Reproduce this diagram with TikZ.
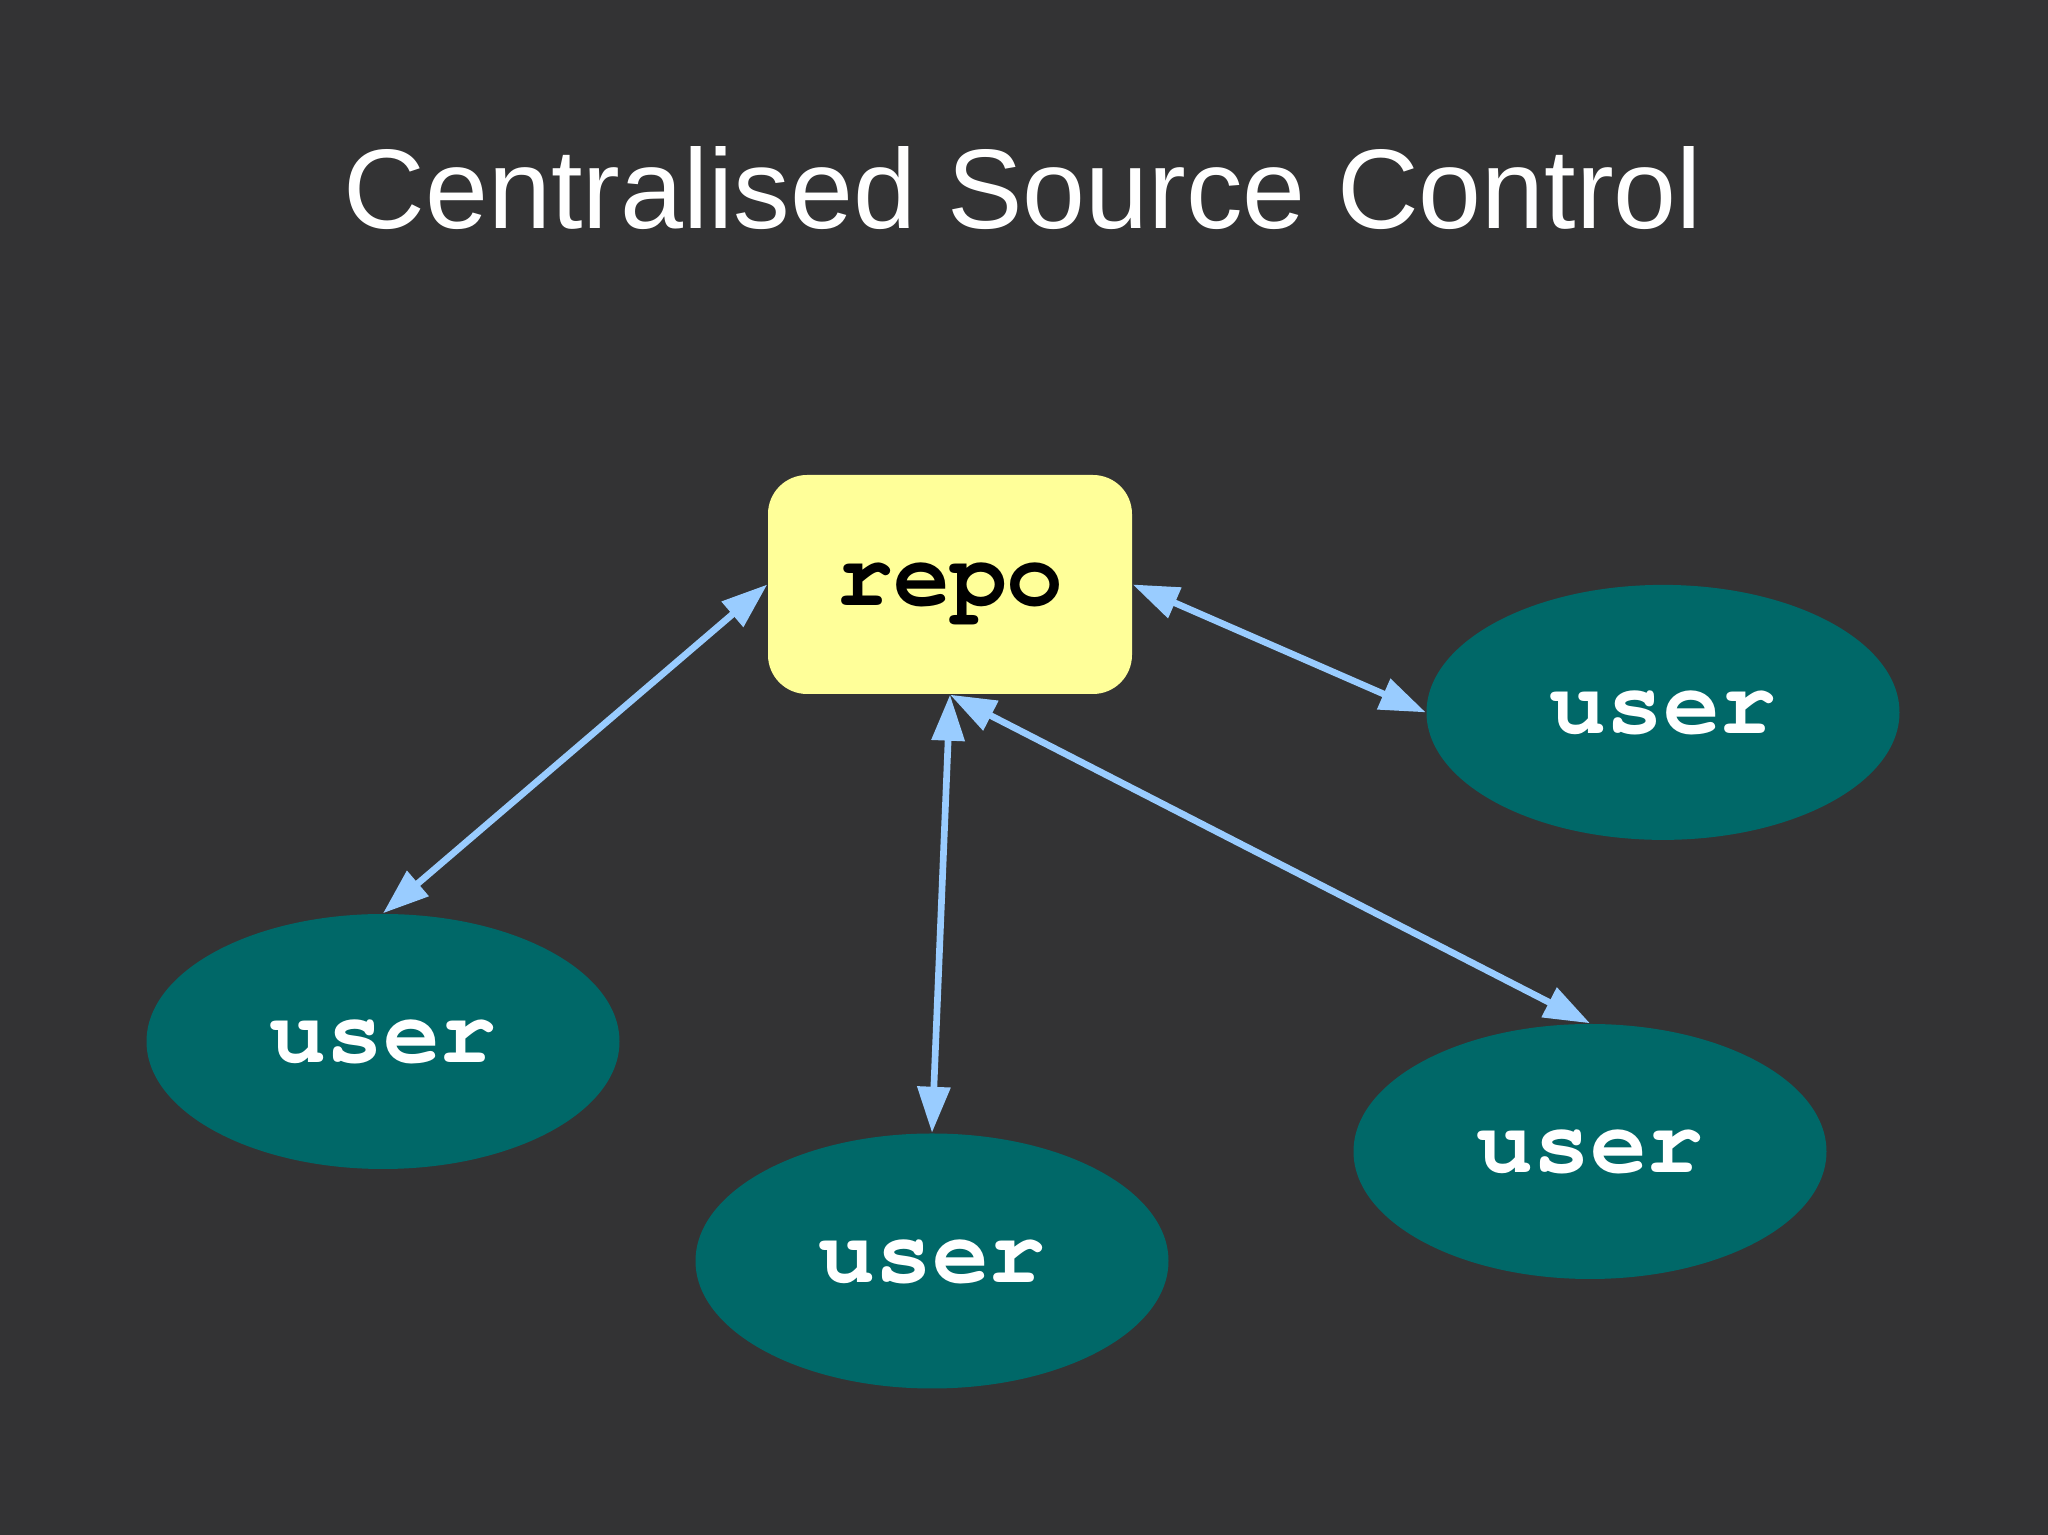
\documentclass[tikz,border=0pt]{standalone}
\usepackage{fontspec}
\setmainfont{Liberation Sans}
\newfontfamily\courierfont{TeX Gyre Cursor}
\usepackage{xcolor}
\usetikzlibrary{positioning}
\usetikzlibrary{shapes.geometric}
\usetikzlibrary{arrows.meta}
\definecolor{slideGrey}{HTML}{333334}
\definecolor{repoYellow}{HTML}{FFFF99}
\definecolor{userTeal}{HTML}{006868}
\definecolor{linkBlue}{HTML}{99CCFF}

\begin{document}
\begin{tikzpicture}
  [
    repo/.style={
       rectangle,
       rounded corners=0.39cm,
       fill=repoYellow,
       minimum width =3.64cm,
       minimum height=2.19cm,
       inner sep=0pt,
       text depth=0pt,
       font=\courierfont\bfseries\fontsize{27}{31}\selectfont
    },
    user/.style={
       ellipse,
       fill=userTeal,
       minimum width =4.73cm,
       minimum height=2.55cm,
       inner sep=0pt,
       text depth=0pt,
       text=white,
       font=\courierfont\bfseries\fontsize{27}{31}\selectfont
    },
    ld/.style={
       draw=linkBlue,
       line width=1.9pt,
       {Triangle[length=0.46cm, width=0.32cm]}-{Triangle[length=0.46cm, width=0.32cm]}
    }
  ]
  \fill [slideGrey] (0,0) rectangle (20.48,15.35);
  \useasboundingbox (0,0) rectangle (20.48,15.35);

  \node (title) at (10.23,13.065) [anchor=base, text=white,
        font=\fontsize{32.2}{39}\selectfont] {Centralised Source Control};

  \node (repo) at ( 9.50,9.505) [repo] {repo};
  \node (uLeft)   at ( 3.83,4.935) [user] {user};
  \node (uRight)  at (16.63,8.226) [user] {user};
  \node (uBottom) at ( 9.32,2.740) [user] {user};
  \node (uLower)  at (15.90,3.835) [user] {user};

  \draw [ld] (repo.west)  -- (uLeft.north);
  \draw [ld] (repo.east)  -- (uRight.west);
  \draw [ld] (repo.south) -- (uBottom.north);
  \draw [ld] (repo.south) -- (uLower.north);
\end{tikzpicture}
\end{document}
